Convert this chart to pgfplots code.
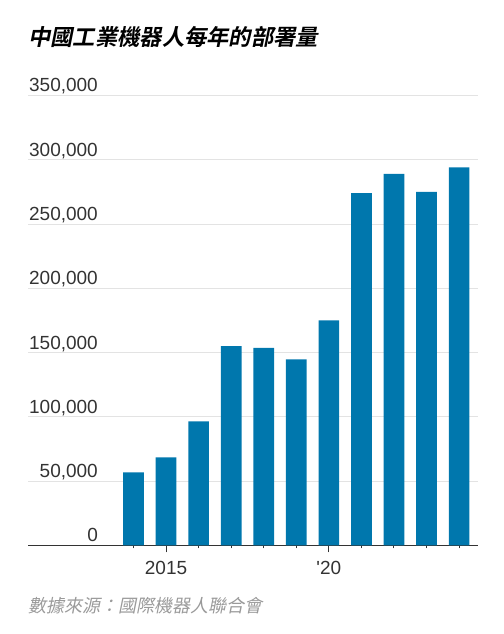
\documentclass[border=0pt]{standalone}
\usepackage{pgfplots}
\pgfplotsset{compat=1.18}
\usepackage{fontspec}
\setmainfont{Liberation Sans}
\newfontfamily\cjk[FakeSlant=0.2]{Noto Sans CJK TC}
\newfontfamily\cjkb[FakeSlant=0.2]{Noto Sans CJK TC Bold}
\definecolor{barblue}{HTML}{0077AD}
\definecolor{gridgray}{HTML}{E3E3E3}
\definecolor{axisgray}{HTML}{333333}
\definecolor{srcgray}{HTML}{9A9A9A}
\begin{document}
\begin{tikzpicture}
\useasboundingbox (0,0) rectangle (504bp,634bp);
\node[anchor=base west, inner sep=0pt, font=\fontsize{22.3bp}{24bp}\selectfont] at (28bp,588bp) {\cjkb 中國工業機器人每年的部署量};
\node[anchor=base west, inner sep=0pt, text=srcgray, font=\fontsize{18bp}{20bp}\selectfont] at (28bp,22bp) {\cjk 數據來源：國際機器人聯合會};
\begin{axis}[
  at={(28bp,88.7bp)}, anchor=south west,
  scale only axis, width=450bp, height=449.8bp,
  xmin=2010.76, xmax=2024.58,
  ymin=0, ymax=350000,
  separate axis lines,
  axis x line*=bottom,
  axis y line*=left,
  x axis line style={color=axisgray, line width=1.3bp},
  y axis line style={draw=none},
  scaled y ticks=false,
  ytick={0,50000,100000,150000,200000,250000,300000,350000},
  yticklabels={0,{50,000},{100,000},{150,000},{200,000},{250,000},{300,000},{350,000}},
  ymajorgrids,
  major grid style={color=gridgray, line width=1bp},
  xtick={2015,2020},
  xticklabels={2015,\textquotesingle20},
  minor xtick={2014,2016,2017,2018,2019,2021,2022,2023,2024},
  tick align=outside,
  major tick length=7bp,
  minor tick length=3bp,
  xtick style={color=axisgray, line width=1bp},
  minor tick style={color=axisgray, line width=1bp},
  ytick style={draw=none},
  tick label style={font=\fontsize{19bp}{21bp}\selectfont, text=axisgray},
  xticklabel style={anchor=base, inner sep=0pt, yshift=-22bp},
  yticklabel style={anchor=base east, inner sep=0pt, xshift=77bp, yshift=3.5bp},
  /pgf/number format/assume math mode=true,
  clip=false,
]
\addplot[ybar, bar width=20.7bp, fill=barblue, draw=none] coordinates {
  (2014,56800) (2015,68400) (2016,96400) (2017,155000) (2018,153700)
  (2019,144700) (2020,175000) (2021,274000) (2022,289000) (2023,275000) (2024,294000)
};
\end{axis}
\end{tikzpicture}
\end{document}
